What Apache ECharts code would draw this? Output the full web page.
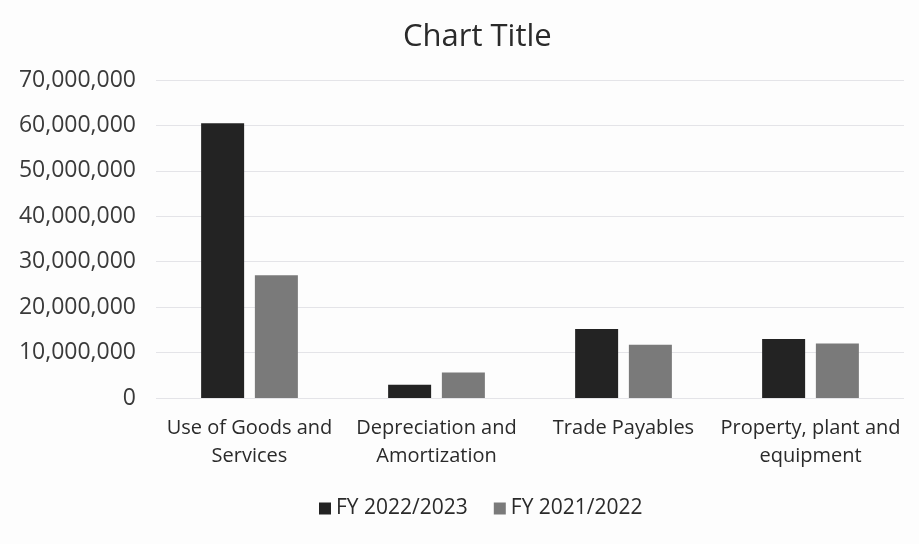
<!DOCTYPE html>
<html><head><meta charset="utf-8">
<script src="https://cdn.jsdelivr.net/npm/echarts@6/dist/echarts.min.js"></script>
<style>html,body{margin:0;padding:0;background:#fff}#c{width:919px;height:544px}</style>
</head><body><div id="c"></div>
<script>
const categories = ['Use of Goods and\nServices', 'Depreciation and\nAmortization', 'Trade Payables', 'Property, plant and\nequipment'];
const fy2023 = [60500000, 2900000, 15200000, 13000000];
const fy2022 = [27000000, 5600000, 11700000, 12000000];
const seriesNames = ['FY 2022/2023', 'FY 2021/2022'];
const yTicks = [0, 10000000, 70000000];

const font = '"Open Sans", "Noto Sans", sans-serif';
const chart = echarts.init(document.getElementById('c'));
chart.setOption({
  animation: false,
  backgroundColor: '#fdfdfd',
  title: {text: 'Chart Title', left: 398, top: 17,
    textStyle: {fontFamily: font, fontSize: 31, fontWeight: 'normal', color: '#2a2a2a'}},
  legend: {bottom: 20, left: 314, itemWidth: 12, itemHeight: 12, itemGap: 26,
    icon: 'rect', textStyle: {fontFamily: font, fontSize: 21, color: '#2a2a2a'}},
  grid: {left: 156, right: 15, top: 80, bottom: 146},
  xAxis: {type: 'category', data: categories,
    axisLine: {show: false}, axisTick: {show: false},
    axisLabel: {fontFamily: font, fontSize: 20, color: '#2a2a2a', lineHeight: 28, margin: 16, interval: 0}},
  yAxis: {type: 'value', min: yTicks[0], max: yTicks[2], interval: yTicks[1],
    axisLine: {show: false}, axisTick: {show: false},
    splitLine: {lineStyle: {color: '#e4e4e8'}},
    axisLabel: {fontFamily: font, fontSize: 23, color: '#3a3a3a', margin: 20,
      formatter: v => v.toLocaleString('en-US')}},
  series: [
    {name: seriesNames[0], type: 'bar', data: fy2023, barWidth: 43, barGap: '25%', itemStyle: {color: '#232323'}},
    {name: seriesNames[1], type: 'bar', data: fy2022, barWidth: 43, itemStyle: {color: '#7a7a7a'}}
  ]
});
</script></body></html>
